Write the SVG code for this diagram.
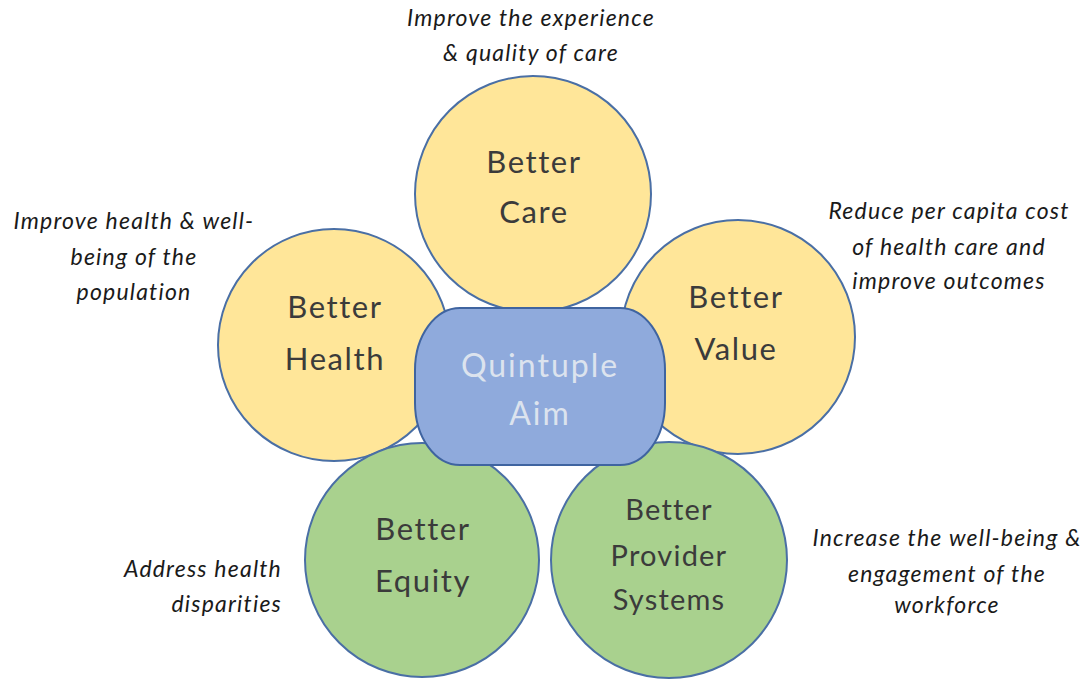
<svg xmlns="http://www.w3.org/2000/svg" width="1087" height="680" viewBox="0 0 1087 680">
<style>
.y{fill:#FFE699;stroke:#4A6FA5;stroke-width:2}
.g{fill:#A9D18E;stroke:#4A6FA5;stroke-width:2}
.c{fill:#8FAADC;stroke:#3F64A0;stroke-width:2}
.t{font-family:Lato,"Open Sans",sans-serif;font-size:31px;letter-spacing:1.6px;fill:#3B3B3B;text-anchor:middle}
.p{font-size:29px;letter-spacing:1.2px}
.q{font-family:Lato,"Open Sans",sans-serif;font-size:32px;letter-spacing:2px;fill:#DCE3EE;text-anchor:middle}
.l{font-family:Lato,"Open Sans",sans-serif;font-size:23px;letter-spacing:1.2px;font-style:italic;fill:#1A1A1A;text-anchor:middle}
.r{text-anchor:end}
</style>
<rect width="1087" height="680" fill="#fff"/>
<g id="connectors"></g>
<g id="care"><circle class="y" cx="533" cy="194" r="118"/><text class="t" x="534" y="173">Better</text><text class="t" x="534" y="223">Care</text></g>
<g id="health"><circle class="y" cx="334" cy="345" r="116"/><text class="t" x="335" y="318">Better</text><text class="t" x="335" y="370">Health</text></g>
<g id="value"><circle class="y" cx="738" cy="337" r="117"/><text class="t" x="736" y="308">Better</text><text class="t" x="736" y="360">Value</text></g>
<g id="equity"><circle class="g" cx="422" cy="560" r="117"/><text class="t" x="423" y="540">Better</text><text class="t" x="423" y="592">Equity</text></g>
<g id="provider"><circle class="g" cx="669" cy="560" r="118"/><text class="t p" x="669" y="520">Better</text><text class="t p" x="669" y="566">Provider</text><text class="t p" x="669" y="610">Systems</text></g>
<g id="center"><rect class="c" x="415" y="308" width="250" height="157" rx="45" ry="62"/><text class="q" x="540" y="377">Quintuple</text><text class="q" x="540" y="425">Aim</text></g>
<g id="label-care"><text class="l" x="531" y="26">Improve the experience</text><text class="l" x="531" y="61">&amp; quality of care</text></g>
<g id="label-health"><text class="l" x="134" y="229">Improve health &amp; well-</text><text class="l" x="134" y="265">being of the</text><text class="l" x="134" y="300">population</text></g>
<g id="label-value"><text class="l" x="949" y="219">Reduce per capita cost</text><text class="l" x="949" y="255">of health care and</text><text class="l" x="949" y="289">improve outcomes</text></g>
<g id="label-equity"><text class="l r" x="282" y="577">Address health</text><text class="l r" x="282" y="612">disparities</text></g>
<g id="label-provider"><text class="l" x="947" y="546">Increase the well-being &amp;</text><text class="l" x="947" y="582">engagement of the</text><text class="l" x="947" y="613">workforce</text></g>
</svg>
